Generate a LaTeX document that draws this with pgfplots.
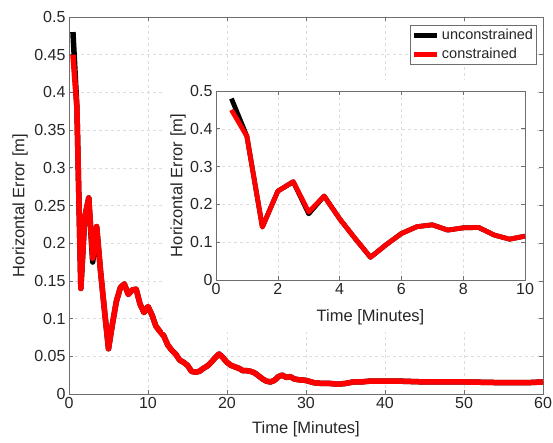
\documentclass[border=0pt]{standalone}
\usepackage{pgfplots}
\pgfplotsset{compat=1.18}
\usepackage{pgfplotstable}
\usepackage{fontspec}
\setmainfont{Liberation Sans}
\definecolor{txt}{HTML}{262626}
\definecolor{axc}{HTML}{6E6E6E}
\definecolor{grd}{HTML}{DCDCDC}

\pgfplotstableread{
t u c
0.5 0.480 0.450
1.0 0.380 0.380
1.5 0.140 0.140
2.0 0.235 0.235
2.5 0.260 0.260
3.0 0.175 0.180
3.5 0.222 0.222
4.0 0.162 0.162
4.5 0.110 0.110
5.0 0.060 0.060
5.5 0.093 0.093
6.0 0.123 0.123
6.5 0.141 0.141
7.0 0.146 0.146
7.5 0.132 0.132
8.0 0.138 0.138
8.5 0.139 0.139
9.0 0.119 0.119
9.5 0.108 0.108
10.0 0.116 0.116
}\insetdata

\pgfplotstableread{
t u c
0.5 0.480 0.450
1.0 0.380 0.380
1.5 0.140 0.140
2.0 0.235 0.235
2.5 0.260 0.260
3.0 0.175 0.180
3.5 0.222 0.222
4.0 0.162 0.162
4.5 0.110 0.110
5.0 0.060 0.060
5.5 0.093 0.093
6.0 0.123 0.123
6.5 0.141 0.141
7.0 0.146 0.146
7.5 0.132 0.132
8.0 0.138 0.138
8.5 0.139 0.139
9.0 0.119 0.119
9.5 0.108 0.108
10.0 0.116 0.116
10.5 0.105 0.105
11.0 0.090 0.090
11.5 0.083 0.083
12.0 0.077 0.077
12.5 0.065 0.065
13.0 0.058 0.058
13.5 0.053 0.053
14.0 0.045 0.045
14.5 0.042 0.042
15.0 0.038 0.038
15.5 0.030 0.030
16.0 0.029 0.029
16.5 0.030 0.030
17.0 0.034 0.034
17.5 0.037 0.037
18.0 0.042 0.042
18.5 0.048 0.048
19.0 0.053 0.053
19.5 0.048 0.048
20.0 0.042 0.042
20.5 0.038 0.038
21.0 0.036 0.036
21.5 0.034 0.034
22.0 0.031 0.031
22.5 0.031 0.031
23.0 0.030 0.030
23.5 0.028 0.028
24.0 0.024 0.024
24.5 0.020 0.020
25.0 0.017 0.017
25.5 0.016 0.016
26.0 0.018 0.018
26.5 0.023 0.023
27.0 0.025 0.025
27.5 0.022 0.022
28.0 0.023 0.023
28.5 0.020 0.020
29.0 0.019 0.019
30.0 0.018 0.018
31.0 0.015 0.015
32.0 0.014 0.014
33.0 0.014 0.014
34.0 0.013 0.013
35.0 0.014 0.014
36.0 0.016 0.016
37.0 0.016 0.016
38.0 0.017 0.017
40.0 0.017 0.017
42.0 0.017 0.017
45.0 0.016 0.016
50.0 0.016 0.016
55.0 0.015 0.015
58.0 0.015 0.015
60.0 0.016 0.016
}\maindata

\pgfplotsset{
  mystyle/.style={
    scale only axis,
    axis line style={axc, line width=0.6pt},
    tick style={axc, line width=0.6pt},
    tick align=inside,
    major tick length=4pt,
    grid=major,
    major grid style={grd, dashed, line width=0.5pt},
    ticklabel style={font=\fontsize{16}{19}\selectfont, text=txt},
    /pgf/number format/assume math mode=true,
    scaled ticks=false,
    yticklabel style={/pgf/number format/fixed, /pgf/number format/precision=2},
    xticklabel style={/pgf/number format/fixed},
  }
}

\begin{document}
\begin{tikzpicture}
\useasboundingbox (-69pt,-49pt) rectangle (484pt,394pt);
\begin{axis}[
  mystyle,
  width=474pt, height=377pt,
  xmin=0, xmax=60, ymin=0, ymax=0.5,
  xtick={0,10,20,30,40,50,60},
  ytick={0,0.05,0.1,0.15,0.2,0.25,0.3,0.35,0.4,0.45,0.5},
  xlabel={Time [Minutes]},
  ylabel={Horizontal Error [m]},
  xlabel style={at={(axis description cs:0.5,-0.093)}, anchor=center, font=\fontsize{16.5}{19}\selectfont, text=txt},
  ylabel style={at={(axis description cs:-0.1034,0.5)}, anchor=center, font=\fontsize{16.5}{19}\selectfont, text=txt},
  legend style={at={(0.987,0.979)}, anchor=north east, draw=axc, line width=0.6pt,
    font=\fontsize{14.5}{16}\selectfont, text=txt, inner xsep=1.5pt, inner ysep=2pt, row sep=3pt,
    cells={anchor=west}},
  legend image code/.code={\draw[#1, line width=5pt] (0pt,0pt) -- (23pt,0pt);},
]
\addplot[black, line width=5.5pt, line join=round] table[x=t, y=u] {\maindata};
\addlegendentry{unconstrained}
\addplot[red, line width=5.5pt, line join=round] table[x=t, y=c] {\maindata};
\addlegendentry{constrained}
\end{axis}
\fill[white] (94pt,62pt) rectangle (466pt,314pt);
\begin{axis}[
  mystyle,
  at={(147pt,114pt)}, anchor=south west,
  width=309pt, height=189pt,
  xmin=0, xmax=10, ymin=0, ymax=0.5,
  xtick={0,2,4,6,8,10},
  ytick={0,0.1,0.2,0.3,0.4,0.5},
  xlabel={Time [Minutes]},
  ylabel={Horizontal Error [m]},
  xlabel style={at={(axis description cs:0.5,-0.198)}, anchor=center, font=\fontsize{16.5}{19}\selectfont, text=txt},
  ylabel style={at={(axis description cs:-0.123,0.5)}, anchor=center, font=\fontsize{16.5}{19}\selectfont, text=txt},
]
\addplot[black, line width=4.8pt, line join=round] table[x=t, y=u] {\insetdata};
\addplot[red, line width=4.8pt, line join=round] table[x=t, y=c] {\insetdata};
\end{axis}
\end{tikzpicture}
\end{document}
